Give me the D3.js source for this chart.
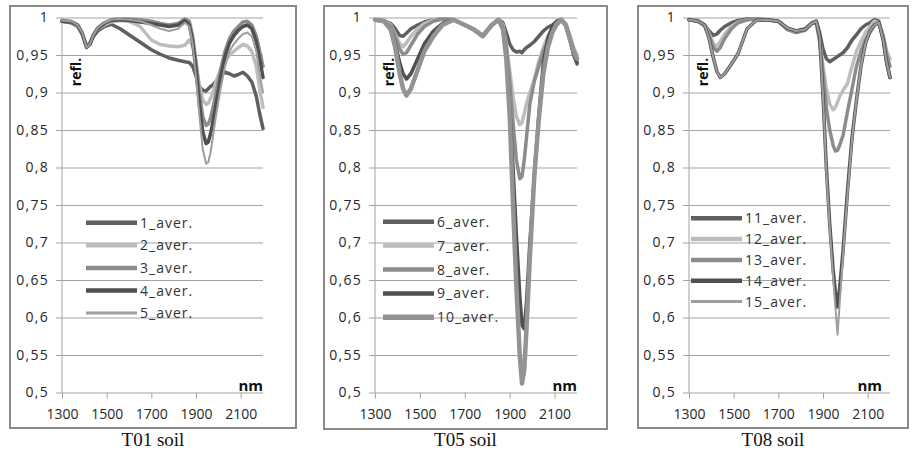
<!DOCTYPE html>
<meta charset="utf-8">
<style>
body { margin: 0; background: #fff; }
svg { display: block; }
.frame { fill: none; stroke: #8a8a8a; stroke-width: 2px; }
.grid line { stroke: #a3a3a3; stroke-width: 1px; }
.grid .domain { display: none; }
.grid text { letter-spacing: 1.3px; }
.axis text { font-family: "Open Sans"; font-size: 14px; fill: #262626; }
.xaxis line { stroke: #a3a3a3; }
.xaxis .domain { display: none; }
.spectrum { fill: none; stroke-linejoin: round; stroke-linecap: round; }
.legend text { font-family: "Open Sans"; font-size: 14px; fill: #333; letter-spacing: 1px; }
.unit { font-family: "Open Sans"; font-weight: bold; fill: #111; }
.title { font-family: "Liberation Serif"; font-size: 19px; fill: #111; }
</style>
<svg width="912" height="450"></svg>

<script src="https://d3js.org/d3.v7.min.js"></script>
<script>

    // wavelengths (nm) shared by all curves
    var nm = [1300,1340,1370,1390,1410,1425,1440,1460,1490,1520,1560,1600,1650,1700,1740,1780,1820,1850,1870,1885,
              1900,1915,1930,1945,1955,1965,1975,1990,2010,2030,2050,2070,2090,2110,2130,2150,2170,2185,2200];

    // T01 soil
    var aver1  = [.995,.993,.988,.978,.962,.966,.975,.982,.988,.991,.985,.977,.967,.957,.951,.946,.943,.941,.940,.935,
                  .922,.908,.903,.902,.905,.908,.910,.915,.922,.927,.925,.922,.924,.927,.922,.914,.895,.872,.852];
    var aver2  = [.996,.994,.989,.979,.962,.966,.976,.984,.990,.994,.996,.995,.988,.970,.964,.962,.961,.963,.970,.962,
                  .940,.910,.890,.884,.886,.892,.900,.915,.930,.942,.950,.955,.960,.964,.962,.955,.935,.905,.880];
    var aver3  = [.996,.995,.990,.980,.961,.965,.977,.986,.993,.997,.998,.998,.997,.995,.992,.990,.992,.998,.995,.975,
                  .940,.900,.868,.856,.858,.866,.878,.900,.930,.955,.972,.982,.988,.994,.995,.990,.975,.955,.935];
    var aver4  = [.995,.994,.990,.979,.960,.964,.975,.985,.992,.996,.997,.996,.994,.992,.990,.988,.990,.996,.990,.968,
                  .930,.885,.848,.832,.834,.845,.860,.885,.920,.948,.966,.976,.983,.988,.990,.985,.968,.945,.920];
    var aver5  = [.996,.995,.990,.980,.960,.964,.976,.986,.993,.997,.998,.997,.995,.990,.985,.982,.985,.993,.988,.965,
                  .920,.870,.825,.805,.807,.820,.840,.870,.905,.935,.955,.965,.972,.978,.980,.975,.955,.925,.900];

    // T05 soil
    var aver6  = [.997,.996,.992,.985,.976,.975,.979,.985,.990,.994,.997,.998,.997,.990,.984,.975,.990,.997,.993,.980,
                  .965,.957,.954,.955,.953,.957,.960,.963,.968,.975,.982,.987,.990,.995,.997,.990,.970,.950,.938];
    var aver7  = [.997,.996,.990,.978,.965,.961,.966,.975,.985,.992,.997,.998,.997,.990,.985,.977,.990,.997,.990,.965,
                  .930,.895,.868,.857,.860,.872,.885,.900,.918,.942,.960,.975,.985,.993,.997,.992,.975,.960,.950];
    var aver8  = [.997,.995,.988,.975,.958,.951,.953,.963,.978,.988,.995,.998,.997,.990,.984,.975,.990,.997,.988,.960,
                  .915,.860,.810,.785,.788,.810,.840,.885,.915,.935,.955,.968,.980,.990,.997,.990,.970,.955,.940];
    var aver9  = [.997,.995,.985,.965,.940,.925,.918,.925,.945,.965,.982,.992,.997,.990,.984,.975,.990,.997,.985,.950,
                  .880,.800,.710,.630,.590,.585,.620,.700,.790,.870,.940,.972,.988,.995,.997,.990,.968,.952,.940];
    var aver10 = [.997,.995,.984,.960,.925,.905,.896,.905,.930,.955,.975,.990,.997,.990,.984,.975,.990,.997,.985,.945,
                  .870,.750,.640,.550,.512,.530,.585,.680,.790,.865,.925,.960,.980,.992,.997,.990,.970,.955,.945];

    // T08 soil
    var aver11 = [.997,.996,.990,.982,.976,.978,.983,.988,.993,.996,.998,.998,.997,.995,.985,.982,.985,.993,.995,.980,
                  .958,.945,.941,.944,.946,.948,.950,.953,.960,.970,.977,.985,.990,.993,.997,.995,.970,.940,.920];
    var aver12 = [.997,.996,.990,.978,.965,.962,.968,.978,.988,.994,.997,.998,.997,.995,.985,.980,.984,.992,.993,.970,
                  .935,.905,.885,.877,.880,.887,.895,.903,.912,.935,.955,.968,.980,.988,.995,.993,.975,.955,.945];
    var aver13 = [.997,.995,.989,.975,.960,.955,.960,.972,.985,.993,.997,.998,.997,.995,.984,.980,.983,.992,.993,.968,
                  .925,.880,.850,.830,.822,.823,.830,.843,.875,.905,.935,.955,.970,.980,.990,.993,.975,.950,.935];
    var aver14 = [.997,.995,.990,.972,.945,.928,.920,.925,.938,.952,.985,.996,.997,.995,.986,.982,.984,.992,.995,.975,
                  .895,.800,.725,.665,.635,.614,.640,.690,.770,.840,.890,.935,.965,.982,.990,.993,.970,.940,.920];
    var aver15 = [.997,.995,.990,.972,.945,.928,.920,.925,.938,.952,.985,.996,.997,.995,.986,.982,.984,.992,.995,.975,
                  .895,.795,.720,.655,.615,.577,.620,.685,.765,.838,.890,.935,.965,.982,.990,.993,.970,.940,.920];

    var yTicks = [0.5, 0.55, 0.6, 0.65, 0.7, 0.75, 0.8, 0.85, 0.9, 0.95, 1];
    var xTicks = [1300, 1500, 1700, 1900, 2100];
    var titles = ["T01 soil", "T05 soil", "T08 soil"];
    var names  = [["1_aver.", "2_aver.", "3_aver.", "4_aver.", "5_aver."],
                  ["6_aver.", "7_aver.", "8_aver.", "9_aver.", "10_aver."],
                  ["11_aver.", "12_aver.", "13_aver.", "14_aver.", "15_aver."]];
    var curves = [[aver1, aver2, aver3, aver4, aver5],
                  [aver6, aver7, aver8, aver9, aver10],
                  [aver11, aver12, aver13, aver14, aver15]];

    // layout of the three boxes
    var panels = [
        {frame: [10, 6, 296, 428],  left: 62,  right: 263, legX: 86,  legY: 222.7, legStep: 22.6, nmRight: 263},
        {frame: [324, 6, 607, 429], left: 375, right: 577, legX: 383, legY: 221.7, legStep: 23.9, nmRight: 577},
        {frame: [638, 6, 908, 428], left: 689, right: 890, legX: 691, legY: 218.3, legStep: 20.8, nmRight: 882}
    ];
    var plotTop = 17.5, plotBottom = 392.5;

    // line look per series slot
    var styles = [
        [{c: "#5f5f5f", w: 3.5}, {c: "#bdbdbd", w: 3.5}, {c: "#8c8c8c", w: 3.5}, {c: "#505050", w: 3.5}, {c: "#9e9e9e", w: 2}],
        [{c: "#5f5f5f", w: 3.5}, {c: "#bdbdbd", w: 3.5}, {c: "#8c8c8c", w: 3.5}, {c: "#505050", w: 3.5}, {c: "#939393", w: 4.5}],
        [{c: "#5f5f5f", w: 3.5}, {c: "#bdbdbd", w: 3.5}, {c: "#8c8c8c", w: 3.5}, {c: "#505050", w: 3.5}, {c: "#9e9e9e", w: 2}]
    ];

    var svg = d3.select("svg");
    var comma = function(d) { return String(d).replace(".", ","); };

    panels.forEach(function(p, k) {
        var g = svg.append("g");

        g.append("rect")
            .attr("class", "frame")
            .attr("x", p.frame[0]).attr("y", p.frame[1])
            .attr("width", p.frame[2] - p.frame[0])
            .attr("height", p.frame[3] - p.frame[1]);

        var xScale = d3.scaleLinear().domain([1300, 2200]).range([p.left, p.right]);
        var yScale = d3.scaleLinear().domain([0.5, 1]).range([plotBottom, plotTop]);

        // gridlines + y labels (lines start a bit left of the axis)
        g.append("g")
            .attr("class", "grid axis")
            .attr("transform", "translate(" + (p.left - 6) + ",0)")
            .call(d3.axisLeft(yScale)
                .tickValues(yTicks)
                .tickFormat(comma)
                .tickSizeInner(-(p.right - p.left + 6))
                .tickSizeOuter(0)
                .tickPadding(7));

        g.append("line")
            .attr("x1", p.left).attr("x2", p.left)
            .attr("y1", plotTop).attr("y2", plotBottom)
            .style("stroke", "#a3a3a3");

        g.append("g")
            .attr("class", "xaxis axis")
            .attr("transform", "translate(0," + plotBottom + ")")
            .call(d3.axisBottom(xScale)
                .tickValues(xTicks)
                .tickFormat(d3.format("d"))
                .tickSizeInner(6)
                .tickSizeOuter(0)
                .tickPadding(11));

        var line = d3.line()
            .x(function(d, i) { return xScale(nm[i]); })
            .y(function(d) { return yScale(d); });

        g.selectAll(".spectrum")
            .data(curves[k])
            .enter().append("path")
            .attr("class", "spectrum")
            .attr("d", line)
            .style("stroke", function(d, i) { return styles[k][i].c; })
            .style("stroke-width", function(d, i) { return styles[k][i].w; });

        // legend
        var leg = g.append("g").attr("class", "legend");
        names[k].forEach(function(n, i) {
            var ly = p.legY + i * p.legStep;
            leg.append("line")
                .attr("x1", p.legX).attr("x2", p.legX + 51)
                .attr("y1", ly).attr("y2", ly)
                .style("stroke", styles[k][i].c)
                .style("stroke-width", styles[k][i].w + 1);
            leg.append("text")
                .attr("x", p.legX + 54)
                .attr("y", ly + 5)
                .text(n);
        });

        g.append("text")
            .attr("class", "unit")
            .attr("transform", "translate(" + (p.left + 19) + ",72) rotate(-90)")
            .attr("text-anchor", "middle")
            .style("font-size", "14px")
            .text("refl.");

        g.append("text")
            .attr("class", "unit")
            .attr("x", p.nmRight)
            .attr("y", 391)
            .attr("text-anchor", "end")
            .style("font-size", "15px")
            .text("nm");

        g.append("text")
            .attr("class", "title")
            .attr("x", (p.frame[0] + p.frame[2]) / 2)
            .attr("y", 446)
            .attr("text-anchor", "middle")
            .text(titles[k]);
    });

</script>
